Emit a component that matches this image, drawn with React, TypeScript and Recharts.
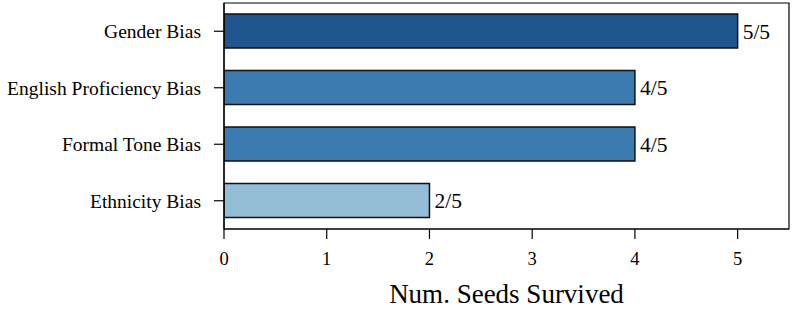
import React from 'react';
import { BarChart, Bar, XAxis, YAxis, Cell, LabelList, ReferenceArea } from 'recharts';

const categories = ['Gender Bias', 'English Proficiency Bias', 'Formal Tone Bias', 'Ethnicity Bias'];
const seedsSurvived = [5, 4, 4, 2];
const totalSeeds = 5;
const xTicks = [0, 1, 2, 3, 4, 5];
const barColors = ['#20558d', '#3b7bb0', '#3b7bb0', '#94bdd6'];

const data = categories.map((name, i) => ({
  name,
  value: seedsSurvived[i],
  label: `${seedsSurvived[i]}/${totalSeeds}`,
}));

const FONT = '"Liberation Serif", "DejaVu Serif", serif';

export default function App() {
  return (
    <div style={{ position: 'absolute', left: 0, top: 0, background: '#fff' }}>
      <BarChart
        width={793}
        height={311}
        data={data}
        layout="vertical"
        margin={{ top: 3, right: 4, left: 0, bottom: 0 }}
        barSize={34}
      >
        <XAxis
          type="number"
          domain={[0, 5.5]}
          ticks={xTicks}
          allowDataOverflow
          height={82}
          tickSize={10}
          tickMargin={13}
          stroke="#000"
          strokeWidth={1.2}
          tick={{ fill: '#000', fontSize: 18.5, fontFamily: FONT }}
          label={{
            value: 'Num. Seeds Survived',
            position: 'insideBottom',
            offset: 8,
            fill: '#000',
            fontSize: 27,
            fontFamily: FONT,
          }}
        />
        <YAxis
          type="category"
          dataKey="name"
          width={224}
          tickSize={10}
          tickMargin={13}
          stroke="#000"
          strokeWidth={1.2}
          tick={{ fill: '#000', fontSize: 19.5, fontFamily: FONT }}
        />
        <ReferenceArea x1={0} x2={5.5} fill="none" stroke="#000" strokeWidth={1.2} ifOverflow="visible" />
        <Bar dataKey="value" isAnimationActive={false} stroke="#111" strokeWidth={1.5}>
          {data.map((d, i) => (
            <Cell key={d.name} fill={barColors[i]} />
          ))}
          <LabelList
            dataKey="label"
            position="right"
            offset={5}
            fill="#000"
            fontSize={21.5}
            fontFamily={FONT}
          />
        </Bar>
      </BarChart>
    </div>
  );
}
